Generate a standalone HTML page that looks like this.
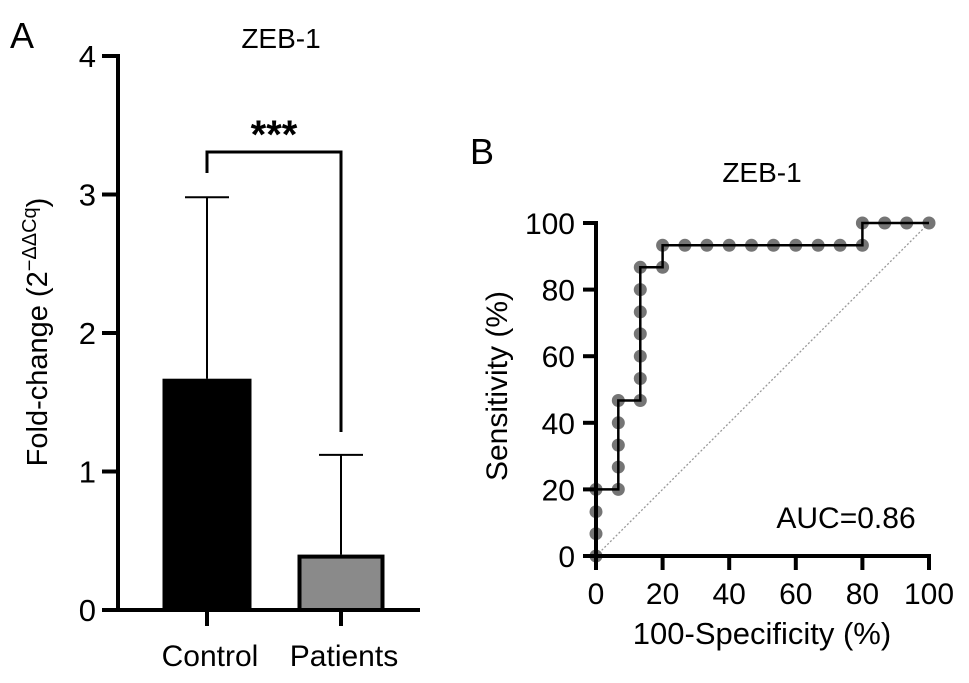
<!DOCTYPE html>
<html><head><meta charset="utf-8"><style>
body{margin:0;background:#fff}
svg text{font-family:"Liberation Sans",sans-serif;fill:#000}
</style></head><body>
<svg width="969" height="678" viewBox="0 0 969 678">
<text x="10" y="48" font-size="36">A</text>
<text x="470" y="164" font-size="36">B</text>
<g id="A"></g>
<g id="B"></g>
</svg>
<script>
const barCats=["Control","Patients"];
const barVals=[1.67,0.4];
const barErr=[2.98,1.12];
const barTicks=[0,1,2,3,4];
const rocX=[0,0,0,0,6.7,6.7,6.7,6.7,6.7,13.3,13.3,13.3,13.3,13.3,13.3,13.3,20,20,26.7,33.3,40,46.7,53.3,60,66.7,73.3,80,80,86.7,93.3,100];
const rocY=[0,6.7,13.3,20,20,26.7,33.3,40,46.7,46.7,53.3,60,66.7,73.3,80,86.7,86.7,93.3,93.3,93.3,93.3,93.3,93.3,93.3,93.3,93.3,93.3,100,100,100,100];
const stepX=[0,0,6.7,6.7,13.3,13.3,20,20,80,80,100];
const stepY=[0,20,20,46.7,46.7,86.7,86.7,93.3,93.3,100,100];
const rocTicks=[0,20,40,60,80,100];
const NS="http://www.w3.org/2000/svg";
function mk(p,t,a,txt){const e=document.createElementNS(NS,t);for(const k in a)e.setAttribute(k,a[k]);if(txt!==undefined)e.textContent=txt;p.appendChild(e);return e;}
// Panel A
const A=document.getElementById('A');
const ya=v=>610-v*138.5;
const barCx=[207,341],barW=[89,87];
mk(A,'text',{x:281,y:48,'font-size':28,'text-anchor':'middle',},'ZEB-1');
barVals.forEach((v,i)=>{
 const cx=barCx[i];
 const l=mk(A,'line',{x1:cx,x2:cx,y1:ya(barErr[i]),y2:ya(v),stroke:'#000','stroke-width':2});
 
 const c=mk(A,'line',{x1:cx-22,x2:cx+22,y1:ya(barErr[i]),y2:ya(barErr[i]),stroke:'#000','stroke-width':2});
 
 const r=mk(A,'rect',{x:cx-barW[i]/2+2,y:ya(v)+2,width:barW[i]-4,height:ya(0)-ya(v)-2,fill:i?'#8a8a8a':'#000',stroke:'#000','stroke-width':4});
 
 mk(A,'line',{x1:cx,x2:cx,y1:610,y2:626,stroke:'#000','stroke-width':4});
 const t=mk(A,'text',{x:cx+3,y:666,'font-size':30,'text-anchor':'middle'},barCats[i]);
 
});
mk(A,'line',{x1:118,x2:118,y1:54,y2:612,stroke:'#000','stroke-width':4,});
mk(A,'line',{x1:116,x2:420,y1:610,y2:610,stroke:'#000','stroke-width':4,});
barTicks.forEach(v=>{
 mk(A,'line',{x1:102,x2:118,y1:ya(v),y2:ya(v),stroke:'#000','stroke-width':4});
 const t=mk(A,'text',{x:96,y:ya(v)+11,'font-size':31,'text-anchor':'end'},v);
 
});
const yt=mk(A,'text',{transform:'translate(47,332) rotate(-90)','font-size':29,'text-anchor':'middle',});
yt.innerHTML='Fold-change (2<tspan dy="-11" font-size="20">−ΔΔCq</tspan><tspan dy="11">)</tspan>';
mk(A,'polyline',{points:'207,173 207,152 341,152 341,432',fill:'none',stroke:'#000','stroke-width':3,});
mk(A,'text',{x:274,y:148,'font-size':40,'font-weight':'bold','text-anchor':'middle',},'***');
// Panel B
const B=document.getElementById('B');
const xb=v=>596+v*3.33,yb=v=>556-v*3.33;
mk(B,'text',{x:762,y:182,'font-size':28,'text-anchor':'middle',},'ZEB-1');
mk(B,'line',{x1:xb(0),y1:yb(0),x2:xb(100),y2:yb(100),stroke:'#999','stroke-width':1.3,'stroke-dasharray':'2,2',});
rocX.forEach((x,i)=>{
 const c=mk(B,'circle',{cx:xb(x),cy:yb(rocY[i]),r:6.5,fill:'#666','fill-opacity':0.9});
 
});
mk(B,'polyline',{points:stepX.map((x,i)=>xb(x)+','+yb(stepY[i])).join(' '),fill:'none',stroke:'#000','stroke-width':2.5,});
mk(B,'line',{x1:596,x2:596,y1:221,y2:558,stroke:'#000','stroke-width':4,});
mk(B,'line',{x1:594,x2:931,y1:556,y2:556,stroke:'#000','stroke-width':4,});
rocTicks.forEach(v=>{
 mk(B,'line',{x1:583,x2:596,y1:yb(v),y2:yb(v),stroke:'#000','stroke-width':4});
 mk(B,'line',{x1:xb(v),x2:xb(v),y1:556,y2:570,stroke:'#000','stroke-width':4});
 const t=mk(B,'text',{x:575,y:yb(v)+11,'font-size':30,'text-anchor':'end'},v);
 
 const u=mk(B,'text',{x:xb(v),y:604,'font-size':30,'text-anchor':'middle'},v);
 
});
mk(B,'text',{x:762,y:644,'font-size':31,'text-anchor':'middle',},'100-Specificity (%)');
mk(B,'text',{transform:'translate(507,386) rotate(-90)','font-size':30,'text-anchor':'middle',},'Sensitivity (%)');
mk(B,'text',{x:846,y:528,'font-size':30,'text-anchor':'middle',},'AUC=0.86');
</script>
</body></html>
